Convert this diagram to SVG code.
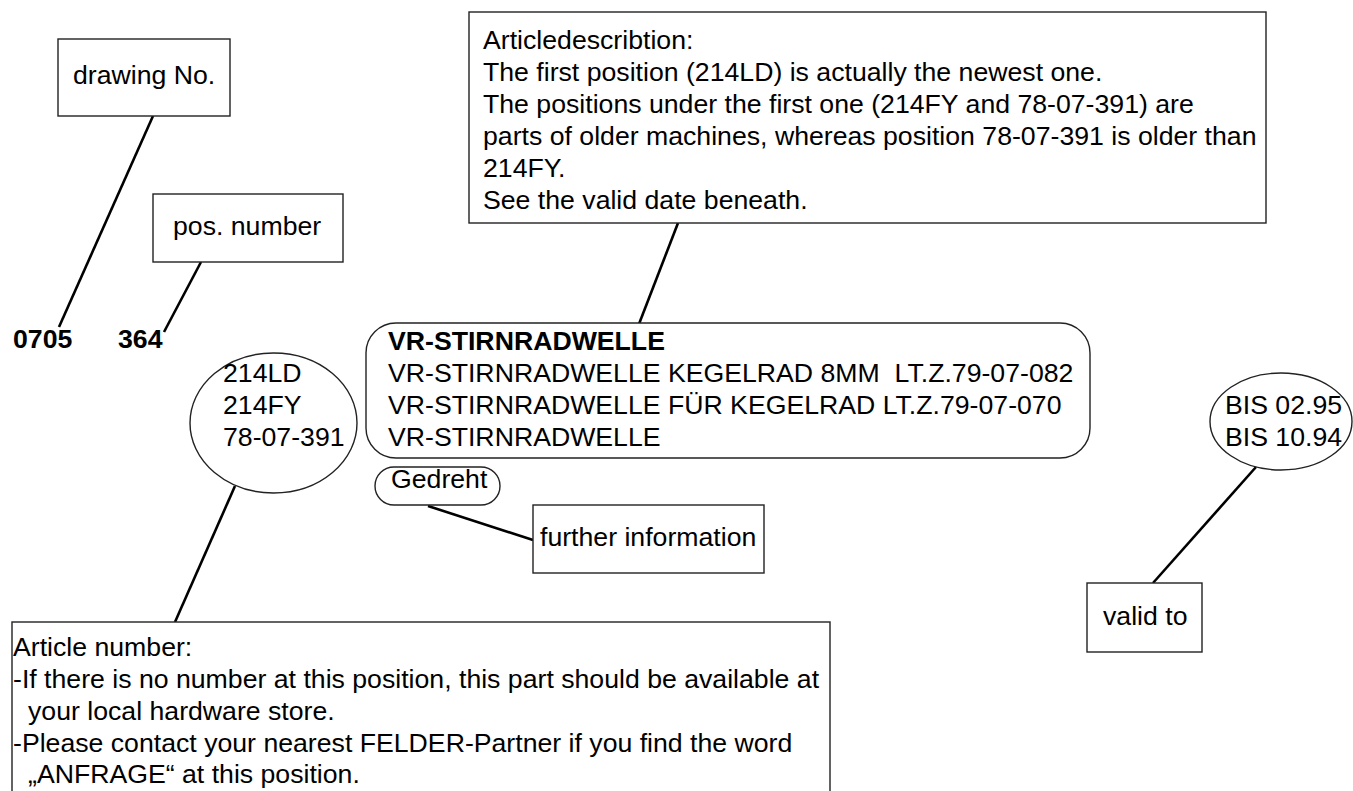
<svg xmlns="http://www.w3.org/2000/svg" width="1353" height="791" viewBox="0 0 1353 791">
<style>
text{font-family:"Liberation Sans",Arial,sans-serif;font-size:26.67px;fill:#000}
.b{font-weight:bold}
.shape{fill:#fff;stroke:#222;stroke-width:1.4}
.conn line{stroke:#000;stroke-width:2.6;stroke-linecap:butt}
</style>
<rect width="1353" height="791" fill="#fff"/>
<g class="conn" id="connectors">
<line x1="153" y1="116" x2="59" y2="327"/>
<line x1="201" y1="262" x2="164" y2="332"/>
<line x1="678" y1="223" x2="639" y2="324"/>
<line x1="235" y1="486" x2="175" y2="622"/>
<line x1="428" y1="506" x2="533" y2="540"/>
<line x1="1256" y1="467" x2="1153" y2="583"/>
</g>
<g id="drawing-no"><rect class="shape" x="58" y="39" width="172" height="77"/><text x="73" y="84">drawing No.</text></g>
<g id="pos-number"><rect class="shape" x="153" y="194" width="190" height="68"/><text x="173" y="235">pos. number</text></g>
<g id="v0705"><text class="b" x="13" y="348">0705</text></g>
<g id="v364"><text class="b" x="118" y="348">364</text></g>
<g id="article-description"><rect class="shape" x="469" y="12" width="797" height="211"/>
<text x="483" y="49">Articledescribtion:</text>
<text x="483" y="81">The first position (214LD) is actually the newest one.</text>
<text x="483" y="113">The positions under the first one (214FY and 78-07-391) are</text>
<text x="483" y="145">parts of older machines, whereas position 78-07-391 is older than</text>
<text x="483" y="177">214FY.</text>
<text x="483" y="209">See the valid date beneath.</text>
</g>
<g id="description-values"><rect class="shape" x="366" y="323" width="724" height="135" rx="30" ry="30"/>
<text class="b" x="388" y="350">VR-STIRNRADWELLE</text>
<text x="388" y="382" xml:space="preserve">VR-STIRNRADWELLE KEGELRAD 8MM  LT.Z.79-07-082</text>
<text x="388" y="414">VR-STIRNRADWELLE FÜR KEGELRAD LT.Z.79-07-070</text>
<text x="388" y="446">VR-STIRNRADWELLE</text>
</g>
<g id="article-numbers"><ellipse class="shape" cx="273.5" cy="423" rx="83.5" ry="70"/>
<text x="223" y="382">214LD</text>
<text x="223" y="414">214FY</text>
<text x="223" y="446">78-07-391</text>
</g>
<g id="gedreht"><rect class="shape" x="375" y="467" width="125" height="38" rx="19" ry="19"/><text x="391" y="488">Gedreht</text></g>
<g id="further-information"><rect class="shape" x="533" y="505" width="231" height="68"/><text x="540" y="546">further information</text></g>
<g id="valid-dates"><ellipse class="shape" cx="1281" cy="421.5" rx="71" ry="48.5"/>
<text x="1225" y="414">BIS 02.95</text>
<text x="1225" y="446">BIS 10.94</text>
</g>
<g id="valid-to"><rect class="shape" x="1087" y="583" width="115" height="69"/><text x="1103" y="625">valid to</text></g>
<g id="article-number-note"><rect class="shape" x="12" y="622" width="818" height="200"/>
<text x="13" y="656">Article number:</text>
<text x="13" y="688">-If there is no number at this position, this part should be available at</text>
<text x="28" y="720">your local hardware store.</text>
<text x="13" y="752">-Please contact your nearest FELDER-Partner if you find the word</text>
<text x="28" y="783">„ANFRAGE“ at this position.</text>
</g>
</svg>
